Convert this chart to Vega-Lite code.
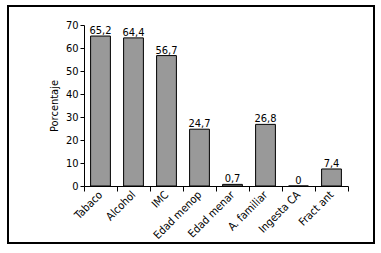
{
  "$schema": "https://vega.github.io/schema/vega-lite/v6.json",
  "width": 366,
  "height": 237,
  "autosize": {"type": "none"},
  "padding": {"left": 8, "top": 6, "right": 7, "bottom": 10},
  "background": "white",
  "config": {
    "view": {"stroke": "black", "strokeWidth": 2},
    "font": "DejaVu Sans Condensed",
    "locale": {"number": {"decimal": ",", "thousands": ".", "grouping": [3], "currency": ["", " €"]}}
  },
  "data": {
    "values": [
      {"factor": "Tabaco", "pct": 65.2},
      {"factor": "Alcohol", "pct": 64.4},
      {"factor": "IMC", "pct": 56.7},
      {"factor": "Edad menop", "pct": 24.7},
      {"factor": "Edad menar", "pct": 0.7},
      {"factor": "A. familiar", "pct": 26.8},
      {"factor": "Ingesta CA", "pct": 0},
      {"factor": "Fract ant", "pct": 7.4}
    ]
  },
  "encoding": {
    "x": {
      "field": "factor",
      "type": "nominal",
      "sort": null,
      "scale": {"range": [76, 340], "paddingInner": 0, "paddingOuter": 0},
      "axis": {
        "title": null,
        "offset": -57,
        "domain": true,
        "domainColor": "black",
        "tickBand": "extent",
        "tickColor": "black",
        "tickSize": 5,
        "labelAngle": -45,
        "labelAlign": "right",
        "labelBaseline": "middle",
        "labelPadding": 2,
        "labelFontSize": 11,
        "labelColor": "black",
        "labelFont": "DejaVu Sans Condensed"
      }
    },
    "y": {
      "field": "pct",
      "type": "quantitative",
      "scale": {"domain": [0, 70], "range": [180, 19], "nice": false, "zero": true},
      "axis": {
        "title": "Porcentaje",
        "offset": -76,
        "domain": true,
        "domainColor": "black",
        "grid": false,
        "values": [0, 10, 20, 30, 40, 50, 60, 70],
        "tickColor": "black",
        "tickSize": 4,
        "labelFontSize": 11,
        "labelColor": "black",
        "labelPadding": 2,
        "labelFont": "DejaVu Sans Condensed",
        "titleFont": "DejaVu Sans Condensed",
        "titleFontSize": 11,
        "titleFontWeight": "normal",
        "titleColor": "black",
        "titlePadding": 6
      }
    }
  },
  "layer": [
    {
      "mark": {"type": "bar", "width": {"band": 0.6}, "fill": "#999999", "stroke": "black", "strokeWidth": 1}
    },
    {
      "mark": {"type": "text", "baseline": "alphabetic", "dy": -2, "fontSize": 11, "color": "black", "font": "DejaVu Sans Condensed"},
      "encoding": {
        "text": {"field": "pct", "type": "quantitative", "format": ".1~f"}
      }
    }
  ]
}
